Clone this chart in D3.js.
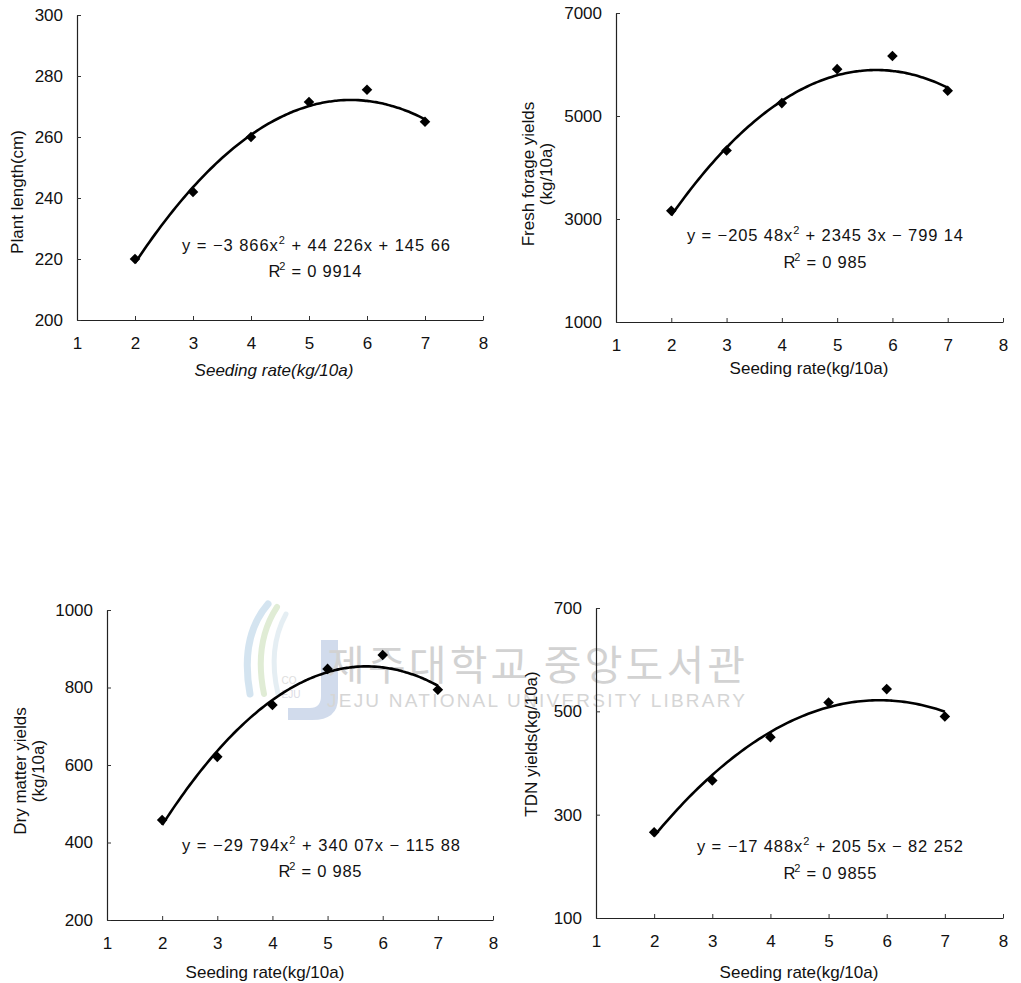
<!DOCTYPE html>
<html>
<head>
<meta charset="utf-8">
<script src="https://cdn.jsdelivr.net/npm/d3@7/dist/d3.min.js"></script>
<style>
  html, body { margin: 0; padding: 0; background: #ffffff; }
  svg { display: block; }
</style>
</head>
<body>
<svg id="chart" width="1021" height="983"></svg>
<script>
// ---------------- DATA ----------------
const seedingRates = [2, 3, 4, 5, 6, 7];
const xTicks = [1, 2, 3, 4, 5, 6, 7, 8];
const xTitle = "Seeding rate(kg/10a)";

const plantLength = [220, 242, 260, 271.5, 275.5, 265];
const freshForage = [3160, 4330, 5250, 5910, 6165, 5490];
const dryMatter = [458, 621, 755, 848, 884, 794];
const tdnYields = [266, 366, 450, 517, 543, 490];

const plantTicks = [200, 220, 240, 260, 280, 300];
const freshTicks = [1000, 3000, 5000, 7000];
const dryTicks = [200, 400, 600, 800, 1000];
const tdnTicks = [100, 300, 500, 700];

// regression coefficients [a, b, c] for y = a x^2 + b x + c
const plantCoef = [-3.866, 44.226, 145.66];
const freshCoef = [-205.48, 2345.3, -799.14];
const dryCoef = [-29.794, 340.07, -115.88];
const tdnCoef = [-17.488, 205.5, -82.252];
const plantR2 = "0.9914";
const freshR2 = "0.985";
const dryR2 = "0.985";
const tdnR2 = "0.9855";

const plantLabel = ["Plant length(cm)"];
const freshLabel = ["Fresh forage yields", "(kg/10a)"];
const dryLabel = ["Dry matter yields", "(kg/10a)"];
const tdnLabel = ["TDN yields(kg/10a)"];

// ---------------- LAYOUT ----------------
const panels = [
  { values: plantLength, ticks: plantTicks, coef: plantCoef, r2: plantR2, label: plantLabel,
    x0: 77, x1: 483, yTop: 15, yBot: 320,
    labelX: [17], labelY: 192, titleX: 274, titleDy: 56, italic: true,
    eqX: 316, eqY: 251, eqW: 268, r2X: 316, r2Y: 277, r2W: 95 },
  { values: freshForage, ticks: freshTicks, coef: freshCoef, r2: freshR2, label: freshLabel,
    x0: 616, x1: 1003, yTop: 13, yBot: 322,
    labelX: [528, 546], labelY: 174, titleX: 809, titleDy: 52, italic: false,
    eqX: 825, eqY: 241, eqW: 276, r2X: 826, r2Y: 268, r2W: 85 },
  { values: dryMatter, ticks: dryTicks, coef: dryCoef, r2: dryR2, label: dryLabel,
    x0: 107, x1: 493, yTop: 610, yBot: 920,
    labelX: [20, 38], labelY: 771, titleX: 265, titleDy: 58, italic: false,
    eqX: 321, eqY: 851, eqW: 278, r2X: 321, r2Y: 877, r2W: 85 },
  { values: tdnYields, ticks: tdnTicks, coef: tdnCoef, r2: tdnR2, label: tdnLabel,
    x0: 596, x1: 1003, yTop: 608, yBot: 918,
    labelX: [531], labelY: 744, titleX: 799, titleDy: 60, italic: false,
    eqX: 830, eqY: 852, eqW: 266, r2X: 831, r2Y: 879, r2W: 95 }
];

const FONT = "'Liberation Sans', Arial, Helvetica, sans-serif";
const svg = d3.select("#chart");

// ---------------- WATERMARK ----------------
const wm = svg.append("g").attr("class", "watermark").attr("opacity", 0.75);
wm.append("path").attr("d", "M268,604 C249,626 243,655 250,694")
  .attr("fill", "none").attr("stroke", "#c6dcec").attr("stroke-width", 7).attr("stroke-linecap", "round");
wm.append("path").attr("d", "M277,607 C262,630 257,660 264,694")
  .attr("fill", "none").attr("stroke", "#d6e6c8").attr("stroke-width", 6).attr("stroke-linecap", "round");
wm.append("path").attr("d", "M286,614 C274,636 271,664 278,694")
  .attr("fill", "none").attr("stroke", "#dde9f0").attr("stroke-width", 5).attr("stroke-linecap", "round");
wm.append("path").attr("d", "M321,640 L338,640 L338,698 Q338,720 312,720 L288,720 L288,708 L310,708 Q321,708 321,696 Z")
  .attr("fill", "#c2d0e6");
wm.append("text").attr("x", 289).attr("y", 684).attr("font-family", FONT).attr("font-size", 10)
  .attr("fill", "#d4d4d4").attr("text-anchor", "middle").text("CO");
wm.append("text").attr("x", 291).attr("y", 698).attr("font-family", FONT).attr("font-size", 10)
  .attr("fill", "#cfcfdc").attr("text-anchor", "middle").text("EJU");

function fitText(sel, target) {
  const w = sel.node().getComputedTextLength();
  const n = sel.text().length;
  const ls = (target - w) / Math.max(1, n - 1);
  sel.style("letter-spacing", ls + "px");
}
const kor = wm.append("text").attr("x", 327).attr("y", 680)
  .attr("font-family", "'Noto Sans CJK KR', sans-serif").attr("font-size", 41)
  .attr("fill", "#c4c4c4").text("제주대학교 중앙도서관");
fitText(kor, 418);
const eng = wm.append("text").attr("x", 327).attr("y", 707)
  .attr("font-family", FONT).attr("font-size", 19)
  .attr("fill", "#c8c8c8").text("JEJU NATIONAL UNIVERSITY LIBRARY");
fitText(eng, 418);

// ---------------- PANELS ----------------
function fmt(v) { return String(Math.abs(v)).replace(".", " "); }

panels.forEach(p => {
  const x = d3.scaleLinear().domain([1, 8]).range([p.x0, p.x1]);
  const y = d3.scaleLinear().domain([p.ticks[0], p.ticks[p.ticks.length - 1]]).range([p.yBot, p.yTop]);
  const g = svg.append("g");

  // x axis
  const gx = g.append("g").attr("transform", `translate(0,${p.yBot})`)
    .call(d3.axisBottom(x).tickValues(xTicks).tickSize(-4).tickSizeOuter(0).tickPadding(17).tickFormat(d3.format("d")));
  // y axis
  const gy = g.append("g").attr("transform", `translate(${p.x0},0)`)
    .call(d3.axisLeft(y).tickValues(p.ticks).tickSize(-4).tickSizeOuter(0).tickPadding(14).tickFormat(d3.format("d")));
  [gx, gy].forEach(a => {
    a.attr("font-family", FONT).attr("font-size", 17);
    a.selectAll("path.domain").attr("stroke", "#222").attr("stroke-width", 1.2);
    a.selectAll(".tick line").attr("stroke", "#333").attr("stroke-width", 1);
    a.selectAll(".tick text").attr("fill", "#111");
  });

  // trend curve
  const [a, b, c] = p.coef;
  const xs = d3.range(2, 7.0001, 0.05);
  const line = d3.line().x(d => x(d)).y(d => y(a * d * d + b * d + c)).curve(d3.curveBasis);
  g.append("path").datum(xs).attr("d", line)
    .attr("fill", "none").attr("stroke", "#000").attr("stroke-width", 2.6);

  // markers
  g.selectAll("path.pt").data(p.values).enter().append("path")
    .attr("class", "pt")
    .attr("d", d3.symbol().type(d3.symbolSquare).size(56))
    .attr("transform", (d, i) => `translate(${x(seedingRates[i])},${y(d)}) rotate(45)`)
    .attr("fill", "#000");

  // equation
  const eq = g.append("text").attr("font-family", FONT).attr("font-size", 16.5).attr("fill", "#111")
    .attr("x", p.eqX - p.eqW / 2).attr("y", p.eqY);
  eq.append("tspan").text(`y = −${fmt(a)}x`);
  eq.append("tspan").attr("dy", -7).attr("font-size", 11).text("2");
  eq.append("tspan").attr("dy", 7).text(` + ${fmt(b)}x ${c < 0 ? "−" : "+"} ${fmt(c)}`);
  {
    const w = eq.node().getComputedTextLength();
    const n = eq.text().length;
    eq.style("letter-spacing", ((p.eqW - w) / (n - 1)) + "px");
  }
  const r2 = g.append("text").attr("font-family", FONT).attr("font-size", 16.5).attr("fill", "#111")
    .attr("x", p.r2X - p.r2W / 2).attr("y", p.r2Y);
  r2.append("tspan").text("R");
  r2.append("tspan").attr("dy", -7).attr("font-size", 11).attr("dx", -2).text("2");
  r2.append("tspan").attr("dy", 7).text(` = ${p.r2.replace(".", " ")}`);
  {
    const w = r2.node().getComputedTextLength();
    const n = r2.text().length;
    r2.style("letter-spacing", ((p.r2W - w) / (n - 1)) + "px");
  }

  // x title
  g.append("text").attr("font-family", FONT).attr("font-size", 17).attr("fill", "#111")
    .attr("text-anchor", "middle").attr("x", p.titleX).attr("y", p.yBot + p.titleDy)
    .attr("font-style", p.italic ? "italic" : "normal")
    .text(xTitle);

  // y label (rotated)
  p.label.forEach((t, i) => {
    g.append("text").attr("font-family", FONT).attr("font-size", 17).attr("fill", "#111")
      .attr("text-anchor", "middle")
      .attr("transform", `translate(${p.labelX[i] + 6},${p.labelY}) rotate(-90)`)
      .text(t);
  });
});
</script>
</body>
</html>
